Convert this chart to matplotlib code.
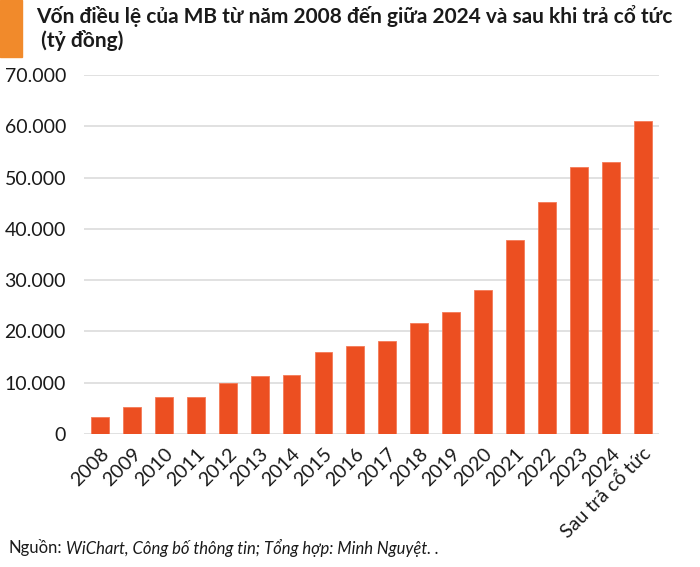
import matplotlib.pyplot as plt
from matplotlib.patches import Rectangle
from matplotlib.ticker import FuncFormatter

plt.rcParams['font.family'] = ['Lato', 'DejaVu Sans']

# Vốn điều lệ MB (tỷ đồng)
categories = ['2008', '2009', '2010', '2011', '2012', '2013', '2014', '2015',
              '2016', '2017', '2018', '2019', '2020', '2021', '2022', '2023',
              '2024', 'Sau trả cổ tức']
values = [3400, 5300, 7300, 7300, 10000, 11256, 11594, 16000,
          17127, 18155, 21605, 23727, 27988, 37783, 45340, 52140,
          53063, 61000]
y_ticks = [0, 10000, 20000, 30000, 40000, 50000, 60000, 70000]

title = 'Vốn điều lệ của MB từ năm 2008 đến giữa 2024 và sau khi trả cổ tức\n (tỷ đồng)'

fig = plt.figure(figsize=(7, 5.67), dpi=100)
ax = fig.add_axes([0.12, 0.2346, 0.821, 0.633])

ax.bar(range(len(values)), values, width=0.56, color='#EC4F21',
       edgecolor='#F47A57', linewidth=0.6, zorder=3)

ax.set_xlim(-0.5, len(values) - 0.5)
ax.set_ylim(0, 70000)
ax.set_yticks(y_ticks)
ax.yaxis.set_major_formatter(FuncFormatter(lambda v, p: f'{int(v):,}'.replace(',', '.')))
ax.set_xticks(range(len(categories)))
ax.set_xticklabels(categories, rotation=45, ha='right', rotation_mode='anchor')
ax.tick_params(axis='both', length=0, labelsize=14, colors='#1a1a1a')
ax.tick_params(axis='x', pad=8)
ax.tick_params(axis='y', pad=13)
ax.grid(axis='y', color='#DCDCDC', linewidth=1.2, zorder=0)
for s in ax.spines.values():
    s.set_visible(False)

# title with orange block on the left
fig.patches.append(Rectangle((0, 1 - 57 / 567), 22 / 700, 57 / 567,
                             transform=fig.transFigure, color='#F18A2B'))
fig.text(36 / 700, 1 - 5 / 567, title, ha='left', va='top', fontsize=15,
         fontweight='bold', color='#1a1a1a', linespacing=1.2)

# source line: regular label then italic part right after it
src = fig.text(8 / 700, 1 - 548 / 567, 'Nguồn:', ha='left', va='center',
               fontsize=12, color='#1a1a1a')
fig.canvas.draw()
bb = src.get_window_extent(fig.canvas.get_renderer())
fig.text((bb.x1 + 4) / 700, 1 - 548 / 567,
         'WiChart, Công bố thông tin; Tổng hợp: Minh Nguyệt. .',
         ha='left', va='center', fontsize=12, style='italic', color='#1a1a1a')

fig.savefig('out.png', dpi=100)
